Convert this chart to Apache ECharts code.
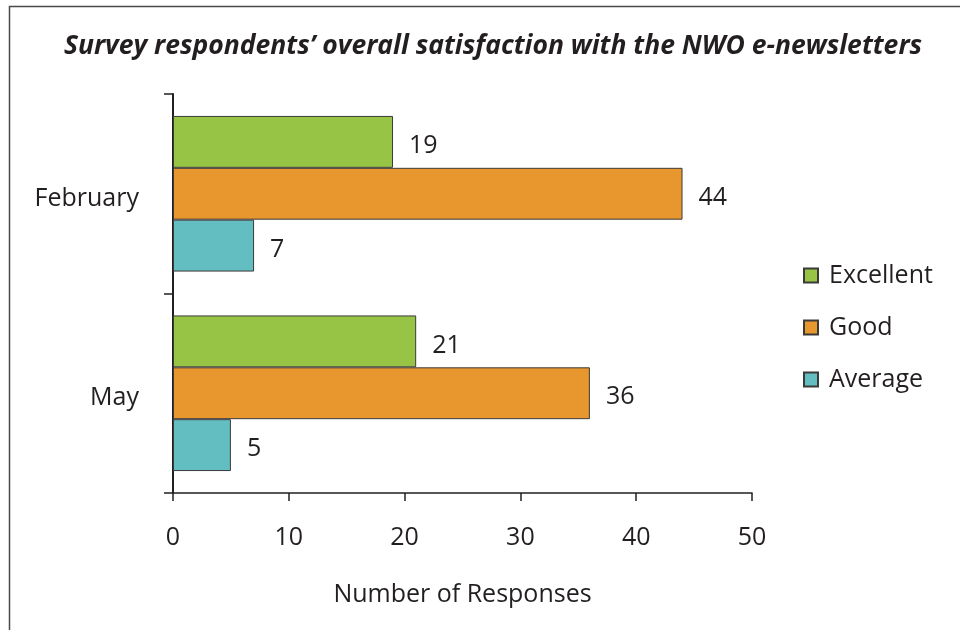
<!DOCTYPE html>
<html>
<head>
<meta charset="utf-8">
<script src="https://cdn.jsdelivr.net/npm/echarts@6/dist/echarts.min.js"></script>
<style>
  html, body { margin: 0; padding: 0; background: #fff; }
  #chart { width: 960px; height: 630px; }
</style>
</head>
<body>
<div id="chart"></div>
<script>
// Survey periods and responses per satisfaction rating
const months = ['February', 'May'];
const excellent = [19, 21];
const good = [44, 36];
const average = [7, 5];
const xTicks = [0, 10, 20, 30, 40, 50];

const FONT = '"Open Sans", "Noto Sans", sans-serif';
const INK = '#231f20';
const SIZE = 25;

function barSeries(name, data, color) {
  return {
    name: name,
    type: 'bar',
    data: data,
    barGap: '0%',
    barCategoryGap: '22%',
    itemStyle: { color: color, borderColor: '#3a3a3a', borderWidth: 1 },
    label: {
      show: true,
      position: 'right',
      distance: 16,
      offset: [0, 4],
      color: INK,
      fontFamily: FONT,
      fontSize: SIZE
    }
  };
}

const chart = echarts.init(document.getElementById('chart'), null, { renderer: 'canvas' });
chart.setOption({
  animation: false,
  backgroundColor: '#fff',
  graphic: [{
    type: 'rect',
    shape: { x: 9.5, y: 6.5, width: 1200, height: 1200 },
    style: { fill: null, stroke: '#4a4a4a', lineWidth: 1.5 },
    silent: true
  }],
  title: {
    text: 'Survey respondents\u2019 overall satisfaction with the NWO e-newsletters',
    left: 488,
    textAlign: 'center',
    top: 28,
    textStyle: {
      fontFamily: FONT,
      fontStyle: 'italic',
      fontWeight: 'bold',
      fontSize: 26.5,
      color: INK
    }
  },
  legend: {
    orient: 'vertical',
    left: 798,
    top: 258,
    itemWidth: 14,
    itemHeight: 14,
    itemGap: 27,
    icon: 'rect',
    textStyle: { fontFamily: FONT, fontSize: SIZE, color: INK, padding: [0, 0, 0, 6] },
    data: ['Excellent', 'Good', 'Average']
  },
  grid: { left: 173, right: 208, top: 94, bottom: 137, containLabel: false },
  xAxis: {
    type: 'value',
    min: xTicks[0],
    max: xTicks[xTicks.length - 1],
    interval: 10,
    name: 'Number of Responses',
    nameLocation: 'middle',
    nameGap: 89,
    nameTextStyle: { fontFamily: FONT, fontSize: SIZE, color: INK },
    axisLine: { show: true, lineStyle: { color: INK, width: 1.5 } },
    axisTick: { show: true, length: 8, lineStyle: { color: INK, width: 1.5 } },
    axisLabel: { margin: 32, fontFamily: FONT, fontSize: SIZE, color: INK },
    splitLine: { show: false }
  },
  yAxis: {
    type: 'category',
    data: months,
    inverse: true,
    axisLine: { show: true, lineStyle: { color: INK, width: 2 } },
    axisTick: { show: true, length: 9, lineStyle: { color: INK, width: 1.5 } },
    axisLabel: {
      margin: 34,
      formatter: '{m|{value}}',
      rich: {
        m: { padding: [10, 0, 0, 0], fontFamily: FONT, fontSize: SIZE, color: INK }
      },
      fontFamily: FONT,
      fontSize: SIZE,
      color: INK
    }
  },
  series: [
    barSeries('Excellent', excellent, '#97c444'),
    barSeries('Good', good, '#e8962e'),
    barSeries('Average', average, '#63bec1')
  ]
});
</script>
</body>
</html>
